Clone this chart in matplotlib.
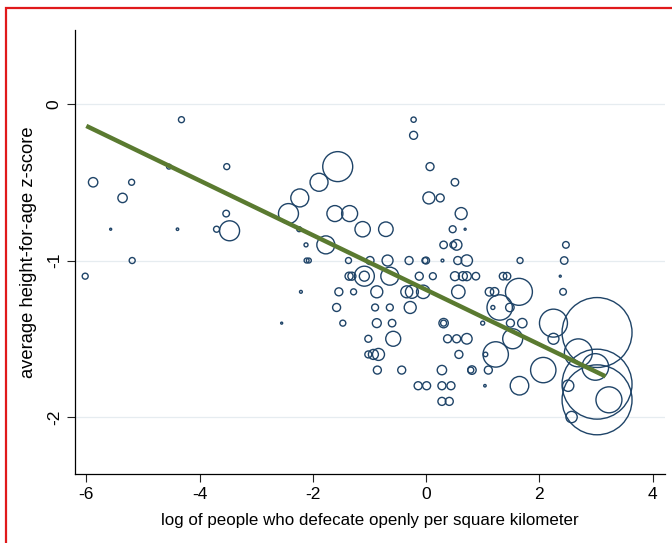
import numpy as np
import matplotlib
matplotlib.use("Agg")
import matplotlib.pyplot as plt
from matplotlib.patches import Rectangle

plt.rcParams['font.family'] = ['Liberation Sans', 'DejaVu Sans']
plt.rcParams['axes.unicode_minus'] = False

# log of open defecation density (x), average height-for-age z-score (y), bubble weight
log_density = [-6.02, -5.88, -5.57, -5.36, -5.20, -5.19, -4.54, -4.39, -4.32, -3.70,
               -3.53, -3.52, -3.47, -2.55, -2.43, -2.24, -2.23, -2.21, -2.12, -2.11,
               -2.07, -1.89, -1.77, -1.61, -1.56, -1.58, -1.54, -1.47, -1.37, -1.36,
               -1.31, -1.35, -1.28, -1.12, -1.09, -1.09, -1.02, -1.02, -0.99, -0.93,
               -0.90, -0.87, -0.87, -0.86, -0.84, -0.71, -0.68, -0.64, -0.64, -0.60,
               -0.58, -0.43, -0.34, -0.30, -0.28, -0.25, -0.22, -0.22, -0.14, -0.12,
               -0.05, 0.01, 0.00, -0.02, 0.07, 0.05, 0.12, 0.25, 0.28, 0.28,
               0.28, 0.29, 0.31, 0.31, 0.31, 0.38, 0.41, 0.44, 0.47, 0.48,
               0.51, 0.51, 0.54, 0.54, 0.56, 0.57, 0.58, 0.62, 0.65, 0.69,
               0.72, 0.72, 0.72, 0.81, 0.79, 0.88, 1.00, 1.04, 1.05, 1.10,
               1.12, 1.18, 1.21, 1.23, 1.30, 1.36, 1.43, 1.48, 1.49, 1.53,
               1.64, 1.65, 1.66, 1.70, 2.07, 2.25, 2.25, 2.37, 2.42, 2.44,
               2.47, 2.51, 2.57, 2.69, 2.99, 3.02, 3.02, 3.02, 3.23]
haz_score = [-1.10, -0.50, -0.80, -0.60, -0.50, -1.00, -0.40, -0.80, -0.10, -0.80,
             -0.70, -0.40, -0.81, -1.40, -0.70, -0.80, -0.60, -1.20, -0.90, -1.00,
             -1.00, -0.50, -0.90, -0.70, -0.40, -1.30, -1.20, -1.40, -1.00, -1.10,
             -1.10, -0.70, -1.20, -0.80, -1.10, -1.10, -1.50, -1.60, -1.00, -1.60,
             -1.30, -1.20, -1.40, -1.70, -1.60, -0.80, -1.00, -1.10, -1.30, -1.40,
             -1.50, -1.70, -1.20, -1.00, -1.30, -1.20, -0.10, -0.20, -1.80, -1.10,
             -1.20, -1.80, -1.00, -1.00, -0.40, -0.60, -1.10, -0.60, -1.70, -1.80,
             -1.90, -1.00, -0.90, -1.40, -1.40, -1.50, -1.90, -1.80, -0.80, -0.90,
             -0.50, -1.10, -0.90, -1.50, -1.00, -1.20, -1.60, -0.70, -1.10, -0.80,
             -1.00, -1.10, -1.50, -1.70, -1.70, -1.10, -1.40, -1.80, -1.60, -1.70,
             -1.20, -1.30, -1.20, -1.60, -1.30, -1.10, -1.10, -1.30, -1.40, -1.50,
             -1.20, -1.80, -1.00, -1.40, -1.70, -1.40, -1.50, -1.10, -1.20, -1.00,
             -0.90, -1.80, -2.00, -1.59, -1.68, -1.46, -1.79, -1.89, -1.89]
weight = [9, 22, 1, 22, 9, 9, 6, 1.5, 9, 9,
          11, 9, 100, 1, 100, 6, 81, 2, 4, 6,
          6, 81, 81, 64, 225, 16, 16, 9, 9, 16,
          16, 64, 9, 59, 100, 25, 12, 12, 16, 25,
          12, 36, 20, 16, 36, 53, 30, 81, 12, 14,
          56, 16, 36, 16, 36, 42, 7, 16, 16, 16,
          45, 16, 12, 9, 16, 36, 12, 16, 22, 16,
          16, 2, 14, 22, 9, 16, 16, 16, 12, 11,
          14, 20, 28, 16, 16, 45, 16, 36, 20, 1,
          32, 20, 28, 18, 9, 14, 4, 1.5, 5, 16,
          18, 4, 18, 161, 161, 14, 14, 18, 16, 100,
          182, 86, 9, 22, 161, 196, 30, 1, 11, 14,
          11, 32, 32, 196, 177, 1225, 1225, 1225, 169]

# fitted line
fit_x = [-6.0, 3.17]
fit_y = [-0.14, -1.74]

fig = plt.figure(figsize=(6.72, 5.43), dpi=100)
ax = fig.add_axes([75/672, 1-474/543, 590/672, 444/543])

ax.axhline(0, color='#e6ecf0', lw=0.9, zorder=0)
ax.axhline(-1, color='#e6ecf0', lw=0.9, zorder=0)
ax.axhline(-2, color='#e6ecf0', lw=0.9, zorder=0)

ax.scatter(log_density, haz_score, s=np.array(weight) * 2.07, facecolors='none',
           edgecolors='#1f4468', linewidths=1.0, zorder=2)
ax.plot(fit_x, fit_y, color='#5a7a30', lw=3.2, solid_capstyle='butt', zorder=3)

ax.set_xlim(-6.2, 4.22)
ax.set_ylim(-2.364, 0.473)
ax.set_xticks([-6, -4, -2, 0, 2, 4])
ax.set_yticks([0, -1, -2])
ax.set_yticklabels(['0', '-1', '-2'], rotation=90, va='center')
ax.tick_params(axis='both', labelsize=12.5, length=6, width=0.8, color='#222222')
ax.spines['top'].set_visible(False)
ax.spines['right'].set_visible(False)
ax.spines['left'].set_linewidth(0.9)
ax.spines['bottom'].set_linewidth(0.9)
ax.set_xlabel('log of people who defecate openly per square kilometer', fontsize=12.2, labelpad=8)
ax.set_ylabel('average height-for-age z-score', fontsize=13.2, labelpad=7)

fig.patches.append(Rectangle((6/672, -0.1), 1.2, 1.1 - 8/543, transform=fig.transFigure,
                             fill=False, edgecolor='#e0191b', linewidth=1.6))

plt.savefig('out.png', dpi=100)
